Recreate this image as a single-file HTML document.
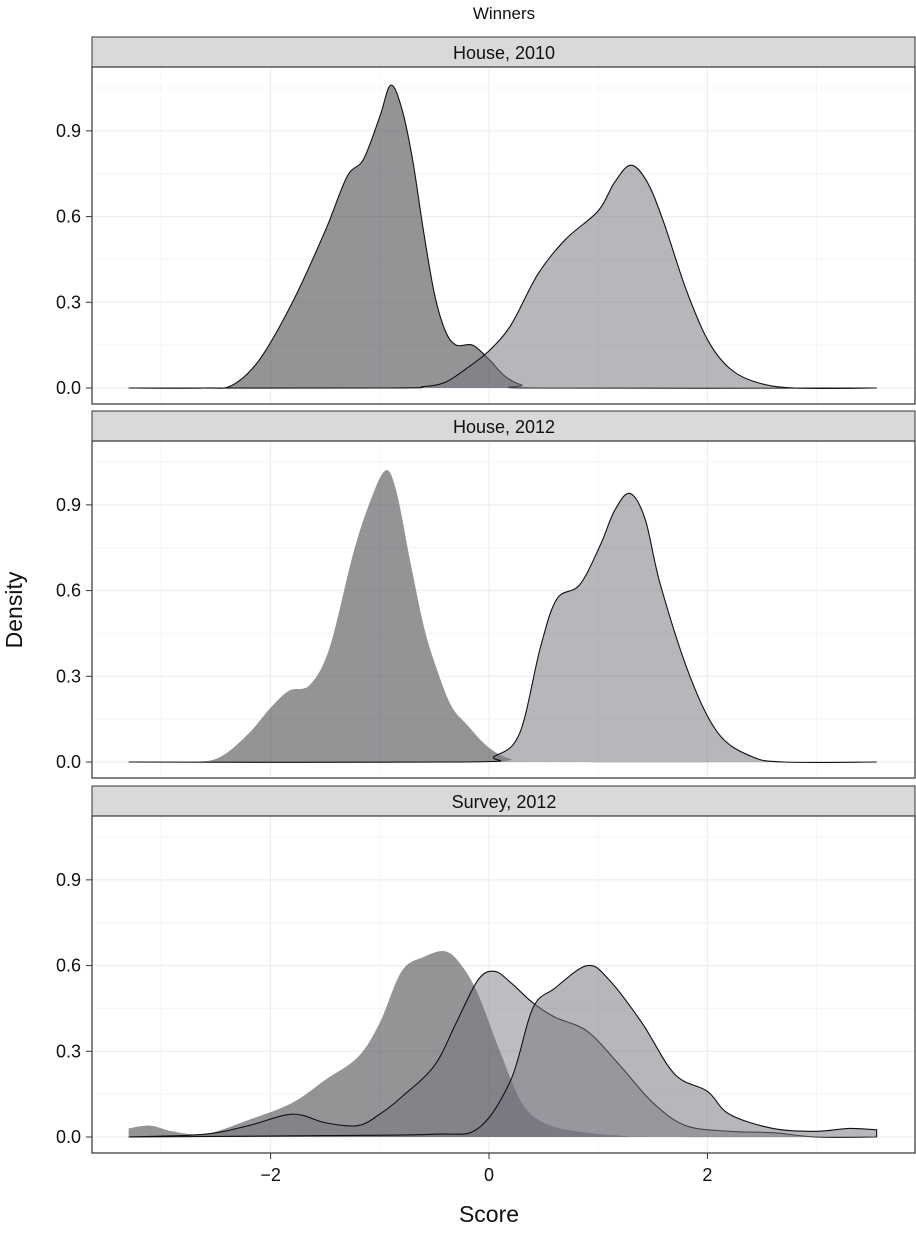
<!DOCTYPE html>
<html><head><meta charset="utf-8"><style>
body{margin:0;background:#fff}
svg text{font-family:"Liberation Sans",sans-serif;fill:#111}
</style></head><body>
<svg id="chart" width="916" height="1229" xmlns="http://www.w3.org/2000/svg">
<text x="504" y="19" font-size="17" text-anchor="middle">Winners</text>
<text x="489" y="1222" font-size="23" text-anchor="middle">Score</text>
<text transform="translate(22,610) rotate(-90)" font-size="23" text-anchor="middle">Density</text>
<g id="panels"></g>
</svg>
<script>
const panelTitles=["House, 2010","House, 2012","Survey, 2012"];
const yTicks=[0,0.3,0.6,0.9];
const xTicks=[-2,0,2];
const p1aX=[-3.3,-2.6,-2.35,-2.1,-1.8,-1.5,-1.3,-1.15,-1.0,-0.9,-0.8,-0.7,-0.6,-0.5,-0.4,-0.3,-0.15,0,0.15,0.3,0.45,3.55];
const p1aY=[0,0,0.01,0.1,0.3,0.55,0.74,0.8,0.95,1.06,0.98,0.8,0.55,0.33,0.2,0.15,0.15,0.1,0.04,0.01,0,0];
const p1bX=[-3.3,-0.9,-0.6,-0.4,-0.2,0,0.2,0.45,0.7,1.0,1.15,1.3,1.45,1.6,1.8,2.0,2.2,2.45,2.8,3.55];
const p1bY=[0,0,0.005,0.02,0.07,0.13,0.22,0.4,0.52,0.62,0.72,0.78,0.72,0.58,0.35,0.17,0.07,0.02,0,0];
const p2aX=[-3.3,-2.7,-2.45,-2.2,-2.0,-1.83,-1.64,-1.46,-1.25,-1.1,-0.95,-0.85,-0.72,-0.6,-0.5,-0.35,-0.2,0,0.2,0.4,3.55];
const p2aY=[0,0,0.02,0.1,0.19,0.25,0.27,0.4,0.72,0.9,1.02,0.95,0.7,0.48,0.35,0.2,0.13,0.05,0.01,0,0];
const p2bX=[-3.3,-0.2,0.05,0.28,0.47,0.62,0.83,1.02,1.15,1.29,1.43,1.57,1.84,2.1,2.4,2.7,3.55];
const p2bY=[0,0,0.02,0.1,0.4,0.57,0.62,0.76,0.88,0.94,0.85,0.62,0.3,0.1,0.02,0,0];
const p3aX=[-3.3,-3.1,-2.9,-2.6,-2.2,-1.8,-1.5,-1.2,-1.0,-0.8,-0.6,-0.4,-0.25,-0.1,0.1,0.3,0.5,0.8,1.2,1.6,3.55];
const p3aY=[0.03,0.04,0.02,0.01,0.06,0.12,0.2,0.28,0.4,0.58,0.63,0.65,0.6,0.5,0.3,0.12,0.05,0.02,0.005,0,0];
const p3bX=[-3.3,-2.6,-2.2,-1.8,-1.5,-1.2,-1.0,-0.8,-0.5,-0.3,-0.1,0.05,0.2,0.4,0.6,0.9,1.2,1.5,1.8,2.2,2.6,3.0,3.55];
const p3bY=[0,0.01,0.04,0.08,0.05,0.04,0.08,0.14,0.25,0.4,0.55,0.58,0.54,0.47,0.42,0.37,0.25,0.12,0.04,0.02,0.015,0,0];
const p3cX=[-3.3,-1.5,-0.5,-0.1,0.2,0.4,0.6,0.9,1.1,1.4,1.7,2.0,2.2,2.6,3.0,3.3,3.55];
const p3cY=[0,0.005,0.01,0.03,0.2,0.45,0.52,0.6,0.55,0.4,0.22,0.16,0.08,0.03,0.02,0.03,0.025];
const series=[
 [[p1aX,p1aY,'dark',true],[p1bX,p1bY,'light',true]],
 [[p2aX,p2aY,'dark',false],[p2bX,p2bY,'light',true]],
 [[p3aX,p3aY,'dark',false],[p3bX,p3bY,'mid',true],[p3cX,p3cY,'light',true]]
];
const NS='http://www.w3.org/2000/svg';
const g=document.getElementById('panels');
const L=92,R=916,xs=v=>489+v*109.2;
const tops=[37,411,786];
function mk(t,a,p){const e=document.createElementNS(NS,t);for(const k in a)e.setAttribute(k,a[k]);(p||g).appendChild(e);return e;}
function smooth(pts){let d='M'+pts[0][0]+','+pts[0][1];for(let i=0;i<pts.length-1;i++){const p0=pts[i-1]||pts[i],p1=pts[i],p2=pts[i+1],p3=pts[i+2]||p2;
d+=' C'+(p1[0]+(p2[0]-p0[0])/6)+','+(p1[1]+(p2[1]-p0[1])/6)+' '+(p2[0]-(p3[0]-p1[0])/6)+','+(p2[1]-(p3[1]-p1[1])/6)+' '+p2[0]+','+p2[1];}return d;}
const fills={dark:'rgba(60,60,66,0.55)',mid:'rgba(110,110,120,0.45)',light:'rgba(115,115,125,0.52)'};
tops.forEach((t,pi)=>{
 const y0=t+30+321, ys=v=>y0-v*285.7;
 const strip=mk('rect',{x:L,y:t,width:R-L-1,height:30,fill:'#d9d9d9',stroke:'#333','stroke-width':1});
 
 const st=mk('text',{x:504,y:t+22,'font-size':18,'text-anchor':'middle'});st.textContent=panelTitles[pi];
 
 [-3,-1,1,3].forEach(v=>mk('line',{x1:xs(v),x2:xs(v),y1:t+30,y2:t+367,stroke:'#f4f4f4'}));
 xTicks.forEach(v=>mk('line',{x1:xs(v),x2:xs(v),y1:t+30,y2:t+367,stroke:'#ebebeb'}));
 [0.15,0.45,0.75,1.05].forEach(v=>mk('line',{x1:L,x2:R,y1:ys(v),y2:ys(v),stroke:'#f4f4f4'}));
 yTicks.forEach(v=>{mk('line',{x1:L,x2:R,y1:ys(v),y2:ys(v),stroke:'#ebebeb'});
  mk('line',{x1:L-6,x2:L,y1:ys(v),y2:ys(v),stroke:'#333'});
  const tl=mk('text',{x:L-11,y:ys(v)+6,'font-size':18,'text-anchor':'end'});tl.textContent=v.toFixed(1);
  });
 series[pi].forEach(([X,Y,c,outline])=>{
  const pts=X.map((x,i)=>[xs(x),ys(Y[i])]);
  const d=smooth(pts);
  const f=mk('path',{d:d+' L'+pts[pts.length-1][0]+','+y0+' L'+pts[0][0]+','+y0+'Z',fill:fills[c]});
  
  if(outline){const l=mk('path',{d:d+(X[X.length-1]>3.5&&Y[Y.length-1]>0?' L'+pts[pts.length-1][0]+','+y0:''),fill:'none',stroke:'#111','stroke-width':1.1});
   }
 });
 mk('rect',{x:L,y:t+30,width:R-L-1,height:337,fill:'none',stroke:'#333','stroke-width':1.2});
});
xTicks.forEach(v=>{mk('line',{x1:xs(v),x2:xs(v),y1:1153,y2:1159,stroke:'#333'});
 const tl=mk('text',{x:xs(v),y:1181,'font-size':18,'text-anchor':'middle'});tl.textContent=(v<0?'\u2212'+(-v):v);
 });
</script>
</body></html>
